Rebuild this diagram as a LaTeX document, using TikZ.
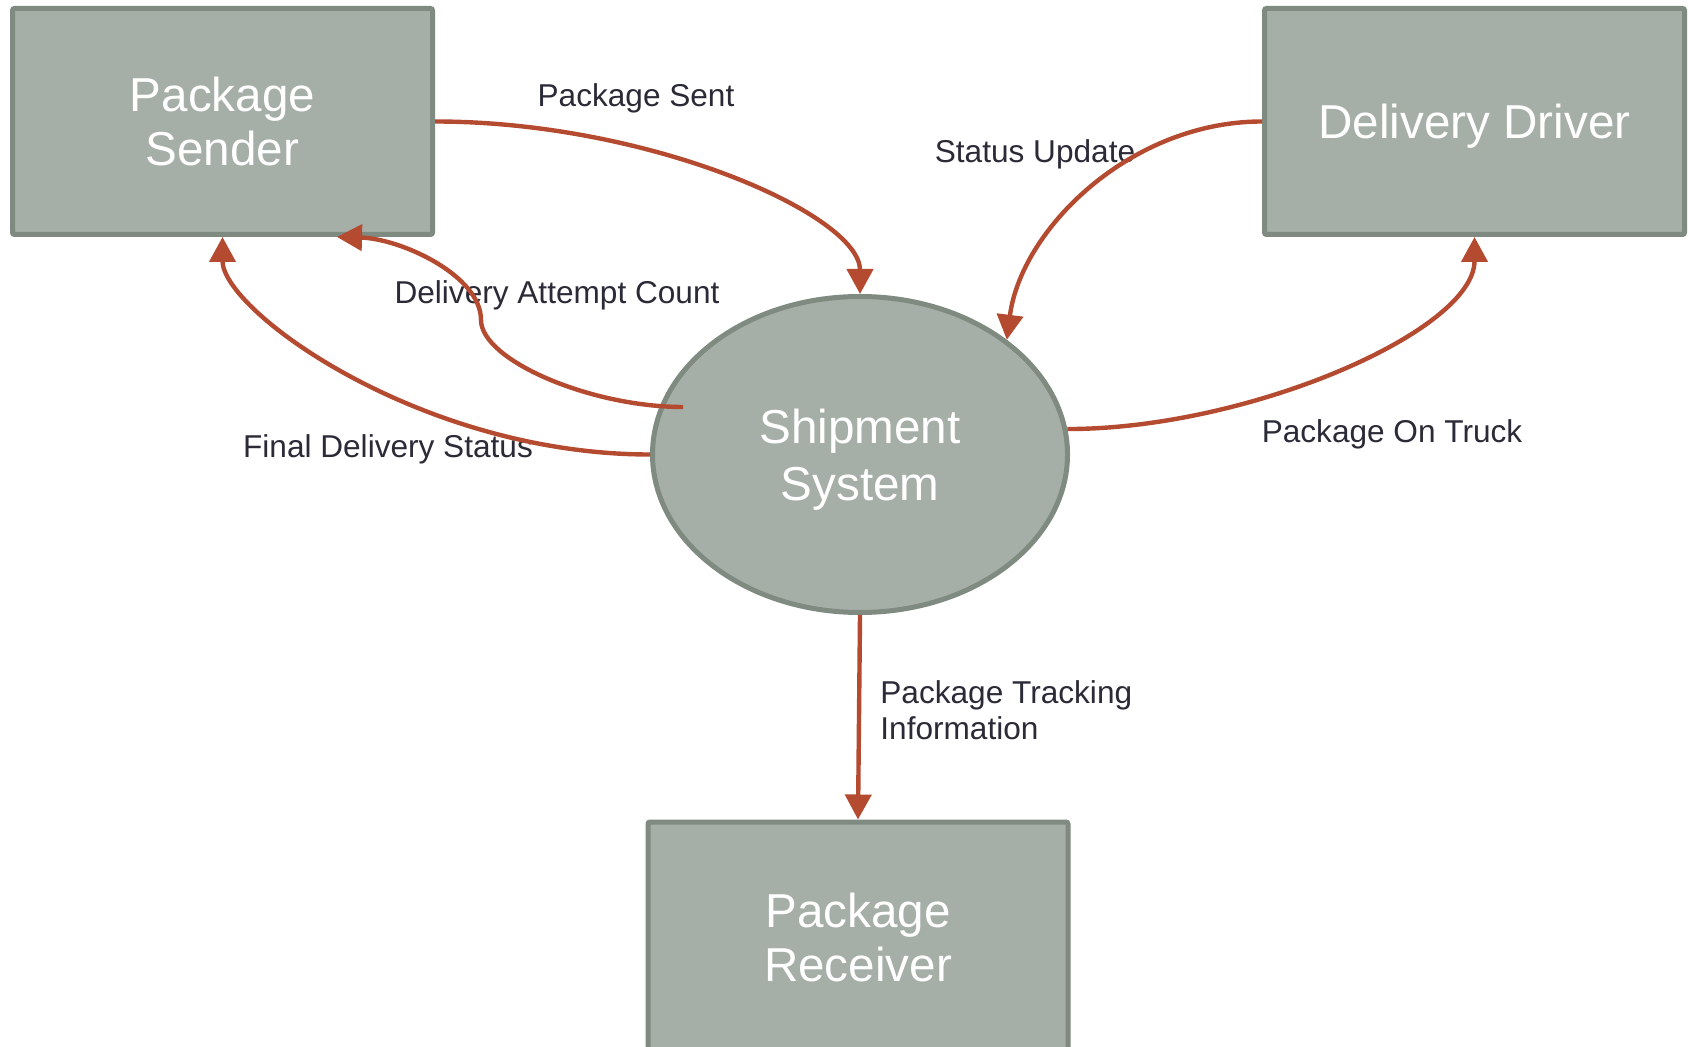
\documentclass[tikz,border=0pt]{standalone}
\usepackage{fontspec}
\setmainfont{Liberation Sans}
\usetikzlibrary{arrows.meta,shapes.geometric}

\definecolor{nodefill}{HTML}{A5AEA7}
\definecolor{nodeline}{HTML}{7F8A80}
\definecolor{flowcolor}{HTML}{B44A30}
\definecolor{labeltext}{HTML}{2B2B38}

\begin{document}
\begin{tikzpicture}[x=0.5pt,y=-0.5pt,
  entity/.style={draw=nodeline, fill=nodefill, line width=2.5pt,
    rounded corners=1pt, minimum width=210pt, minimum height=113pt,
    inner sep=0pt, text=white, align=center, text depth=0pt,
    font=\fontsize{23.8}{27}\selectfont},
  process/.style={ellipse, draw=nodeline, fill=nodefill, line width=2.5pt,
    minimum width=207.5pt, minimum height=158pt, inner sep=0pt,
    text=white, align=center, text depth=0pt,
    font=\fontsize{23.8}{28.5}\selectfont},
  flowlabel/.style={text=labeltext, inner sep=0pt,
    font=\fontsize{15.8}{18}\selectfont},
  flowline/.style={draw=flowcolor, line width=2.2pt,
    -{Triangle[length=12.5pt,width=13pt]}}
]
\clip (0,0) rectangle (1689,1047);
\fill[white] (0,0) rectangle (1689,1047);

% external entities and the central process
\node[entity] (sender) at (222.5,121.5) {Package\\Sender};
\node[entity] (driver) at (1474.5,121.5) {Delivery Driver};
\node[entity, minimum height=115pt] (receiver) at (858,937) {Package\\Receiver};
\node[process] (system) at (860,454.5) {Shipment\\System};

% data flow labels
\node[flowlabel, anchor=base] (lsent) at (636,107) {Package Sent};
\node[flowlabel, anchor=base] (lstatus) at (1035,163) {Status Update};
\node[flowlabel, anchor=base] (ltruck) at (1392,443) {Package On Truck};
\node[flowlabel, anchor=base] (lfinal) at (388,458) {Final Delivery Status};
\node[flowlabel, anchor=base] (lattempt) at (557,304) {Delivery Attempt Count};
\node[flowlabel, anchor=north west, align=left] (ltrack) at (880,680)
  {Package Tracking\\Information};

% start of the attempt-count flow, inside the process
\coordinate (attemptstart) at ([shift={(-177,-47.5)}]system.center);

% data flows
\draw[flowline] (sender.east) .. controls +(215,0) and +(0,-79) .. (system.north);
\draw[flowline] (driver.west) .. controls +(-132,0) and +(14,-110) .. (system.38);
\draw[flowline] (system.7) .. controls +(182,0) and +(0,93.5) .. (driver.south);
\draw[flowline] (system.west) .. controls +(-230,0) and +(0,73.5) .. (sender.south);
\draw[flowline] (attemptstart) .. controls +(-93,0) and +(0,40) .. ++(-202,-87)
  .. controls +(0,-45) and +(63,1.5) .. ([shift={(114.5,0)}]sender.south);
\draw[flowline] (system.south) -- (receiver.north);
\end{tikzpicture}
\end{document}
